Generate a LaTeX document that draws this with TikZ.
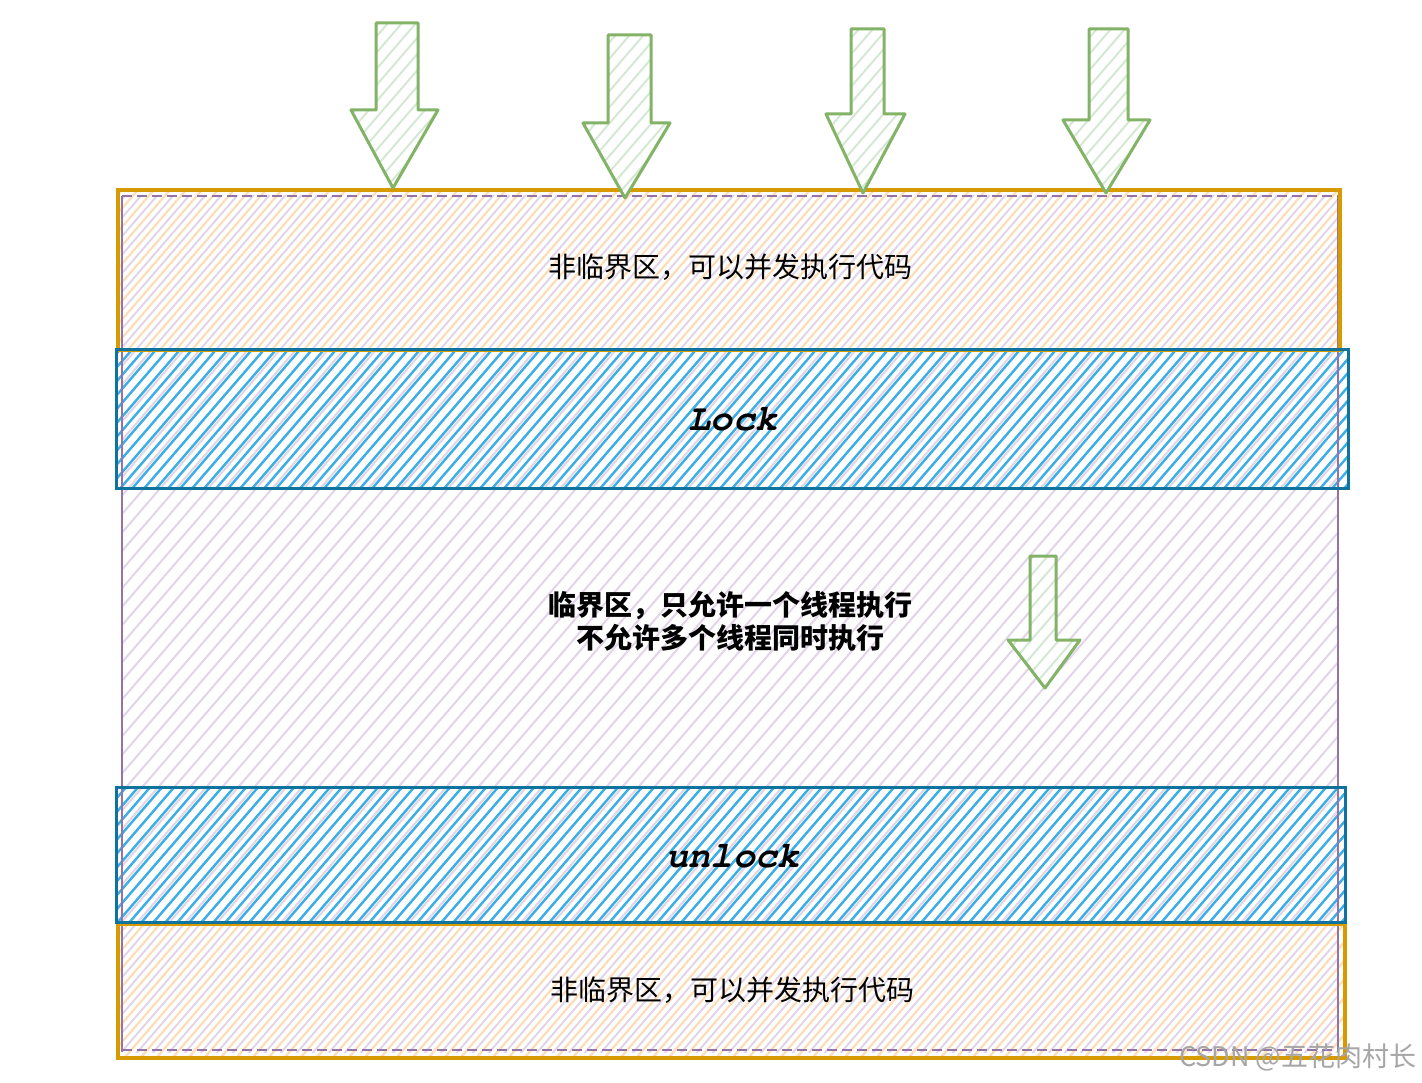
\documentclass[tikz,border=0pt]{standalone}
\usepackage{fontspec}
\newfontfamily\cjk{Noto Sans CJK SC}
\newfontfamily\mono{texgyrecursor}[Extension=.otf,UprightFont=*-regular,BoldFont=*-bold,ItalicFont=*-italic,BoldItalicFont=*-bolditalic]
\definecolor{orS}{HTML}{D79B00}
\definecolor{orF}{HTML}{FDDCB8}
\definecolor{puS}{HTML}{9673A6}
\definecolor{puF}{HTML}{E1D5E7}
\definecolor{blS}{HTML}{10739E}
\definecolor{blF}{HTML}{3AAEE6}
\definecolor{grS}{HTML}{82B366}
\definecolor{grF}{HTML}{D5E8D4}
\tikzset{
  orbox/.style={draw=orS,line width=3.2pt},
  blbox/.style={draw=blS,line width=3pt},
  pubox/.style={draw=puS,line width=2.2pt},
  arrowshape/.style={draw=grS,line width=3pt,line join=round},
  plain/.style={font=\cjk\fontsize{28}{34}\selectfont,text=black},
  boldtxt/.style={font=\cjk\bfseries\fontsize{28}{33}\selectfont,text=black,align=center},
  codetxt/.style={font=\mono\bfseries\itshape\fontsize{37}{40}\selectfont,text=black},
}
\newcommand{\hatchin}[4]{%
  \begin{scope}\clip #1;
  \foreach \k in {#3,#4,...,1500}{\draw[#2] (\k,1100) -- ++(950,-1100);}
  \end{scope}}
\newcommand{\greenarrow}[9]{% x1 x2 ytop yhead xl xr xtip ytip
  \def\arpath{(#1,#3) -- (#2,#3) -- (#2,#4) -- (#6,#4) -- (#7,#8) -- (#5,#4) -- (#1,#4) -- cycle}%
  \fill[white] \arpath;
  \hatchin{\arpath}{grF,line width=2pt}{-1200}{-1186}
  \draw[arrowshape] \arpath;}
\begin{document}
\begin{tikzpicture}[x=1pt,y=-1pt]
\useasboundingbox (0,0) rectangle (1422,1083);
\fill[white] (0,0) rectangle (1422,1083);

% big purple region
\hatchin{(122,196) rectangle (1338,1052)}{puF,line width=2pt}{-1200}{-1184}
% orange regions
\hatchin{(118,190) rectangle (1340,350)}{orF,line width=2.2pt}{-1192}{-1176}
\hatchin{(118,924) rectangle (1345,1058)}{orF,line width=2.2pt}{-1192}{-1176}
% blue regions
\hatchin{(116,350) rectangle (1348,488)}{blF,line width=2.4pt}{-1200}{-1188}
\hatchin{(116,787) rectangle (1345,922)}{blF,line width=2.4pt}{-1200}{-1188}

% purple outline
\draw[pubox] (122,196) -- (122,1052);
\draw[pubox] (1338,196) -- (1338,1052);
\draw[pubox,dash pattern=on 10pt off 5pt] (122,196) -- (1338,196);
\draw[pubox,dash pattern=on 10pt off 5pt] (122,1050) -- (1338,1050);

% orange outlines
\draw[orbox] (118,190) rectangle (1340,350);
\draw[orbox] (118,924) rectangle (1345,1058);
% blue outlines
\draw[blbox] (116,350) rectangle (1348,488);
\draw[blbox] (116,787) rectangle (1345,922);

% arrows
\greenarrow{376}{418}{23}{110}{351}{438}{393}{188}{}
\greenarrow{608}{651}{35}{123}{583}{670}{625}{198}{}
\greenarrow{851}{884}{29}{114}{826}{905}{863}{193}{}
\greenarrow{1089}{1128}{29}{120}{1063}{1150}{1106}{193}{}
\greenarrow{1030}{1056}{556}{640}{1008}{1080}{1045}{688}{}

% texts
\node[plain] (t1) at (730,267) {非临界区，可以并发执行代码};
\node[codetxt] (lk) at (733,419) {Lock};
\node[boldtxt] (t2) at (730,621) {临界区，只允许一个线程执行\\不允许多个线程同时执行};
\node[codetxt] (ul) at (733,856) {unlock};
\node[plain] (t3) at (732,990) {非临界区，可以并发执行代码};
\node[font=\cjk\fontsize{27}{30}\selectfont,text=black!35,anchor=east] (wm) at (1420,1057) {CSDN @五花肉村长};
\end{tikzpicture}
\end{document}
